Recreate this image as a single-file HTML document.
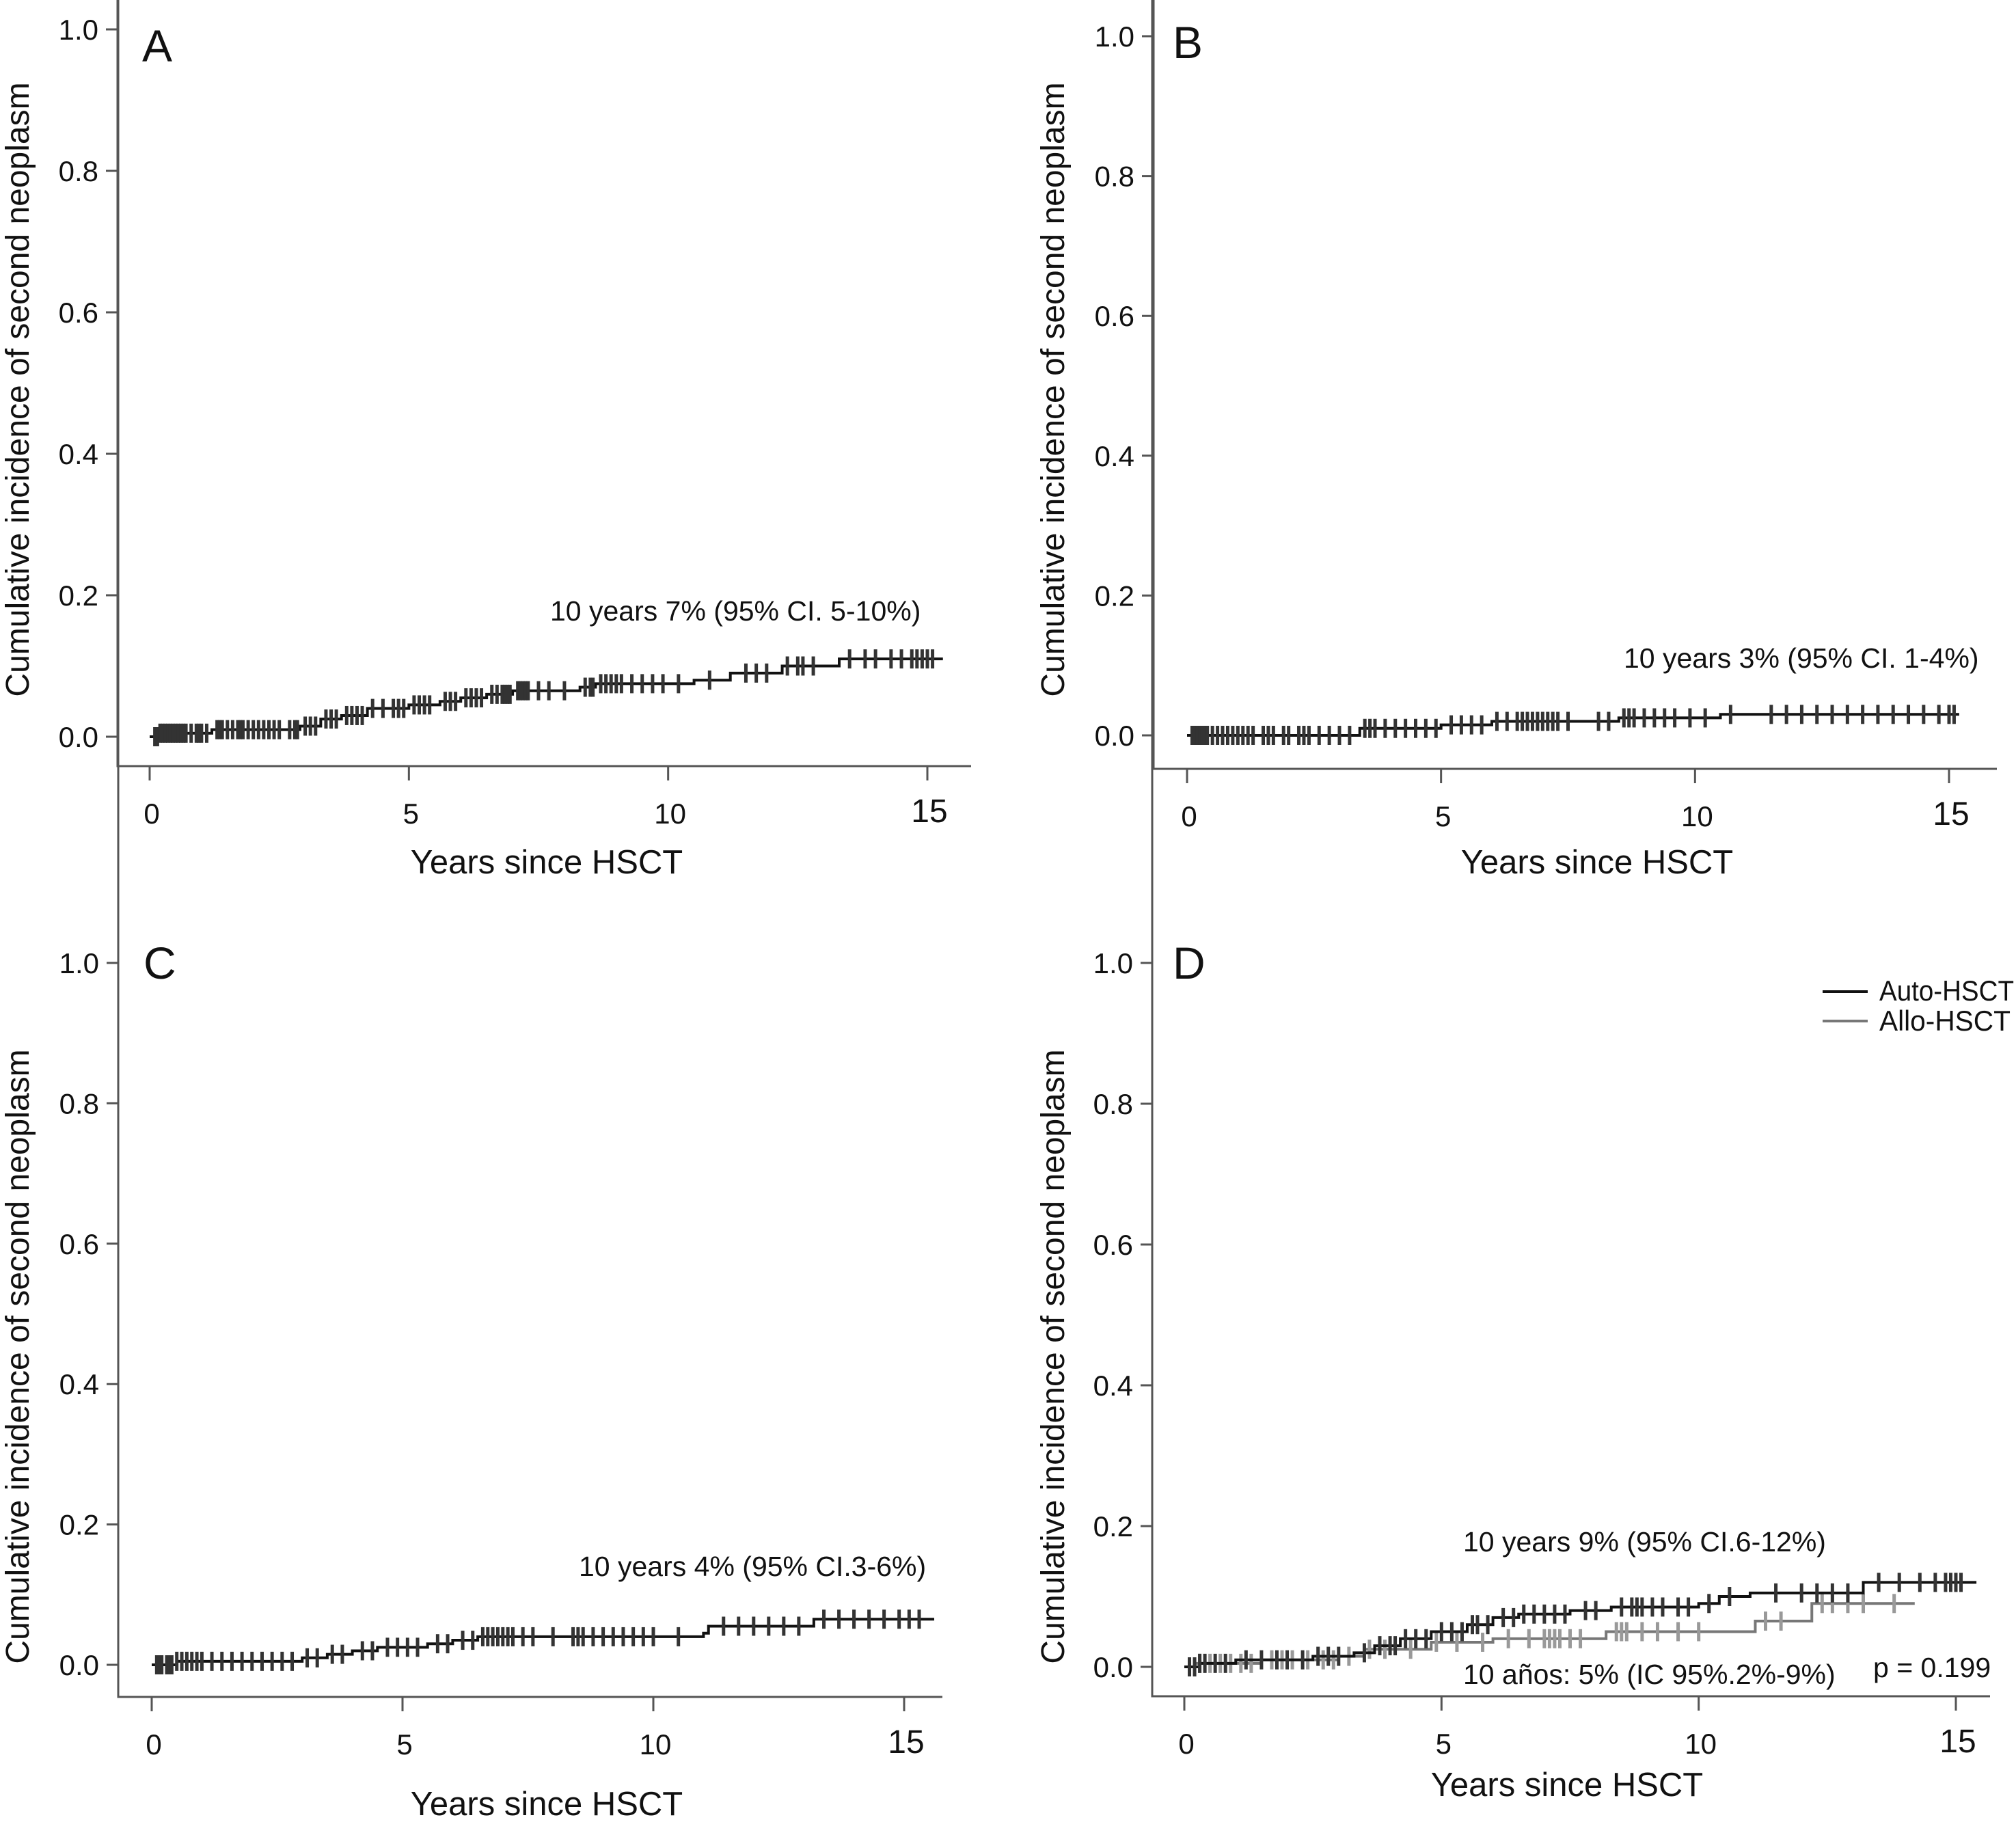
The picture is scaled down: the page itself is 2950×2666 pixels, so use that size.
<!DOCTYPE html>
<html><head><meta charset="utf-8"><style>
html,body{margin:0;padding:0;background:#fff;}
svg{display:block;font-family:"Liberation Sans",sans-serif;}
</style></head><body>
<svg id="fig" width="2950" height="2666" viewBox="0 0 2950 2666" xmlns="http://www.w3.org/2000/svg"></svg>
<script>
// ---- data ----
const yTickLabels = ["0.0","0.2","0.4","0.6","0.8","1.0"];
const yTickValues = [0,0.2,0.4,0.6,0.8,1.0];
const xTickLabels = ["0","5","10","15"];
const xTickValues = [0,5,10,15];

const aStepT = [0,0.2,1.2,2.9,3.3,3.7,4.2,5.0,5.6,6.0,6.5,7.0,8.3,8.6,10.5,11.2,12.2,13.3,15.3];
const aStepV = [0,0.005,0.01,0.015,0.025,0.03,0.04,0.045,0.05,0.055,0.06,0.065,0.07,0.075,0.08,0.09,0.1,0.11,0.11];
const aCens = [0.1,0.15,0.2,0.25,0.3,0.35,0.4,0.45,0.5,0.55,0.6,0.65,0.7,0.8,0.9,0.95,1.0,1.1,1.3,1.35,1.4,1.5,1.6,1.7,1.75,1.8,1.9,2.0,2.1,2.2,2.3,2.4,2.5,2.7,2.8,2.85,3.0,3.1,3.2,3.4,3.5,3.6,3.8,3.9,4.0,4.1,4.3,4.5,4.7,4.8,4.9,5.1,5.2,5.3,5.4,5.7,5.8,5.9,6.1,6.2,6.3,6.4,6.6,6.7,6.8,6.85,6.9,6.95,7.1,7.15,7.2,7.25,7.3,7.5,7.7,8.0,8.4,8.5,8.55,8.7,8.8,8.9,9.0,9.1,9.3,9.5,9.7,9.9,10.2,10.8,11.5,11.7,11.9,12.3,12.5,12.6,12.8,13.5,13.8,14.0,14.3,14.5,14.7,14.8,14.9,15.0,15.1];

const bStepT = [0,3.4,5.0,6.0,8.5,10.5,15.2];
const bStepV = [0,0.01,0.015,0.02,0.025,0.03,0.03];
const bCens = [0.1,0.15,0.2,0.25,0.3,0.35,0.4,0.5,0.6,0.7,0.8,0.9,1.0,1.1,1.2,1.3,1.5,1.6,1.7,1.9,2.0,2.2,2.3,2.4,2.6,2.8,3.0,3.2,3.5,3.6,3.7,3.9,4.1,4.3,4.5,4.7,4.9,5.2,5.4,5.6,5.8,6.1,6.3,6.5,6.6,6.7,6.8,6.9,7.0,7.1,7.2,7.3,7.5,8.1,8.3,8.6,8.7,8.8,9.0,9.2,9.4,9.6,9.9,10.2,10.7,11.5,11.8,12.1,12.4,12.7,13.0,13.3,13.6,13.9,14.2,14.5,14.8,15.0,15.1];

const cStepT = [0,0.5,3.0,3.5,4.0,4.5,5.5,6.0,6.5,11.0,11.1,13.2,15.6];
const cStepV = [0,0.005,0.01,0.015,0.02,0.025,0.03,0.035,0.04,0.045,0.055,0.065,0.065];
const cCens = [0.1,0.15,0.2,0.3,0.35,0.4,0.5,0.6,0.7,0.8,0.9,1.0,1.2,1.4,1.6,1.8,2.0,2.2,2.4,2.6,2.8,3.1,3.3,3.6,3.8,4.2,4.4,4.7,4.9,5.1,5.3,5.7,5.9,6.2,6.4,6.6,6.7,6.8,6.9,7.0,7.1,7.2,7.4,7.6,8.0,8.4,8.5,8.6,8.8,9.0,9.2,9.4,9.6,9.8,10.0,10.5,11.4,11.7,12.0,12.3,12.6,12.9,13.4,13.7,14.0,14.3,14.6,14.9,15.1,15.3];

const dAutoT = [0,0.3,1.0,2.5,3.3,3.7,4.2,4.8,5.5,6.0,6.5,7.5,8.3,10.0,10.4,11.0,13.2,15.4];
const dAutoV = [0,0.005,0.01,0.015,0.02,0.03,0.04,0.05,0.06,0.07,0.075,0.08,0.085,0.09,0.1,0.105,0.12,0.12];
const dAutoCens = [0.1,0.2,0.3,0.4,0.6,0.8,1.2,1.5,1.8,2.0,2.3,2.6,2.8,3.0,3.5,3.8,4.0,4.1,4.3,4.5,4.7,5.0,5.2,5.4,5.6,5.7,5.9,6.2,6.4,6.6,6.8,7.0,7.2,7.4,7.8,8.0,8.5,8.7,8.8,8.9,9.1,9.3,9.6,9.8,10.2,10.6,11.5,12.0,12.3,12.6,12.9,13.5,13.9,14.3,14.6,14.8,14.9,15.0,15.1];
const dAlloT = [0,0.2,1.5,3.0,3.5,4.8,6.0,8.2,11.1,12.2,14.2];
const dAlloV = [0,0.005,0.01,0.015,0.025,0.035,0.04,0.05,0.065,0.09,0.09];
const dAlloCens = [0.1,0.3,0.5,0.7,0.9,1.1,1.3,1.7,1.9,2.1,2.4,2.7,2.9,3.2,3.6,3.9,4.4,4.9,5.3,5.8,6.3,6.7,7.0,7.1,7.2,7.3,7.5,7.7,8.4,8.5,8.6,8.9,9.2,9.6,10.0,11.3,11.6,12.4,12.6,12.9,13.2,13.8];

// ---- rendering ----
const NS = "http://www.w3.org/2000/svg";
const svg = document.getElementById("fig");
function mk(tag, attrs, parent){ const e=document.createElementNS(NS,tag); for(const k in attrs) e.setAttribute(k,attrs[k]); (parent||svg).appendChild(e); return e; }

function panel(p){
  const g = mk("g",{});
  
  
  const sx = v => p.x0 + (p.x15-p.x0)*v/15;
  const sy = v => p.y0 + (p.y1-p.y0)*v;
  const ax = mk("path",{d:`M${p.ax} 0 V${p.xaY} H${p.xEnd}`,fill:"none",stroke:"#555",'stroke-width':3},g);
  
  
  yTickValues.forEach((v,i)=>{
    const y=sy(v);
    mk("line",{x1:p.ax-17,x2:p.ax,y1:y,y2:y,stroke:"#555",'stroke-width':3},g);
    const t=mk("text",{x:p.ax-28,y:y+15,'text-anchor':"end",'font-size':42,fill:"#111"},g);
    t.textContent=yTickLabels[i];
    
    
  });
  xTickValues.forEach((v,i)=>{
    const x=sx(v);
    mk("line",{x1:x,x2:x,y1:p.xaY,y2:p.xaY+21,stroke:"#555",'stroke-width':3},g);
    const t=mk("text",{x:x+3,y:p.xaY+(i==3?82:84),'text-anchor':"middle",'font-size':i==3?48:42,fill:"#111"},g);
    t.textContent=xTickLabels[i];
    
    
  });
  const yt=mk("text",{x:0,y:0,'text-anchor':"middle",'font-size':48,fill:"#111",transform:`translate(${p.ytX},${p.ytY}) rotate(-90)`},g);
  yt.textContent="Cumulative incidence of second neoplasm";
  
  
  const xt=mk("text",{x:p.xtX,y:p.xtY,'text-anchor':"middle",'font-size':49,fill:"#111"},g);
  xt.textContent="Years since HSCT";
  
  
  const L=mk("text",{x:p.lx,y:p.ly,'font-size':66,fill:"#111"},g);
  L.textContent=p.id;
  
  
  p.series.forEach(s=>{
    let d=`M${sx(s.t[0])} ${sy(s.v[0])}`;
    for(let i=1;i<s.t.length;i++){ d+=` H${sx(s.t[i])} V${sy(s.v[i])}`; }
    const path=mk("path",{d:d,fill:"none",stroke:s.color,'stroke-width':4},g);
    
    
    s.c.forEach(ct=>{
      let v=s.v[0];
      for(let i=0;i<s.t.length;i++){ if(s.t[i]<=ct) v=s.v[i]; }
      const x=sx(ct), y=sy(v);
      const m=mk("path",{d:`M${x} ${y-14} V${y+14}`,stroke:s.tick,'stroke-width':5},g);
      
      
    });
  });
  p.notes.forEach(n=>{
    const t=mk("text",{x:n.x,y:n.y,'font-size':41,fill:"#111"},g);
    t.textContent=n.text;
    
    
  });
}

panel({id:"A",ax:172,y0:1078,y1:43,xaY:1121,x0:219,x15:1357,xEnd:1421,ytX:42,ytY:570,xtX:800,xtY:1278,lx:208,ly:90,
  series:[{name:"overall",t:aStepT,v:aStepV,c:aCens,color:"#111",tick:"#333"}],
  notes:[{x:805,y:908,text:"10 years 7% (95% CI. 5-10%)",name:"annotation-10-year"}]});
panel({id:"B",ax:1688,y0:1076,y1:53,xaY:1125,x0:1737,x15:2852,xEnd:2922,ytX:1557,ytY:570,xtX:2337,xtY:1278,lx:1716,ly:85,
  series:[{name:"overall",t:bStepT,v:bStepV,c:bCens,color:"#111",tick:"#333"}],
  notes:[{x:2376,y:977,text:"10 years 3% (95% CI. 1-4%)",name:"annotation-10-year"}]});
panel({id:"C",ax:173,y0:2436,y1:1409,xaY:2483,x0:222,x15:1323,xEnd:1379,ytX:42,ytY:1985,xtX:800,xtY:2656,lx:210,ly:1432,
  series:[{name:"overall",t:cStepT,v:cStepV,c:cCens,color:"#111",tick:"#333"}],
  notes:[{x:847,y:2306,text:"10 years 4% (95% CI.3-6%)",name:"annotation-10-year"}]});
panel({id:"D",ax:1686,y0:2439,y1:1409,xaY:2482,x0:1733,x15:2862,xEnd:2912,ytX:1557,ytY:1985,xtX:2293,xtY:2628,lx:1716,ly:1432,
  series:[{name:"allo-hsct",t:dAlloT,v:dAlloV,c:dAlloCens,color:"#777",tick:"#999"},
          {name:"auto-hsct",t:dAutoT,v:dAutoV,c:dAutoCens,color:"#111",tick:"#333"}],
  notes:[{x:2141,y:2270,text:"10 years 9% (95% CI.6-12%)",name:"annotation-auto"},
         {x:2141,y:2464,text:"10 años: 5% (IC 95%.2%-9%)",name:"annotation-allo"},
         {x:2741,y:2454,text:"p = 0.199",name:"p-value"}]});

// legend
const lg = mk("g",{});


mk("line",{x1:2667,x2:2733,y1:1451,y2:1451,stroke:"#111",'stroke-width':4},lg);
mk("line",{x1:2667,x2:2733,y1:1494,y2:1494,stroke:"#777",'stroke-width':4},lg);
const l1=mk("text",{x:2750,y:1464,'font-size':42,fill:"#111",textLength:197,lengthAdjust:"spacingAndGlyphs"},lg);
l1.textContent="Auto-HSCT";


const l2=mk("text",{x:2750,y:1508,'font-size':42,fill:"#111",textLength:192,lengthAdjust:"spacingAndGlyphs"},lg);
l2.textContent="Allo-HSCT";


</script>
</body></html>
